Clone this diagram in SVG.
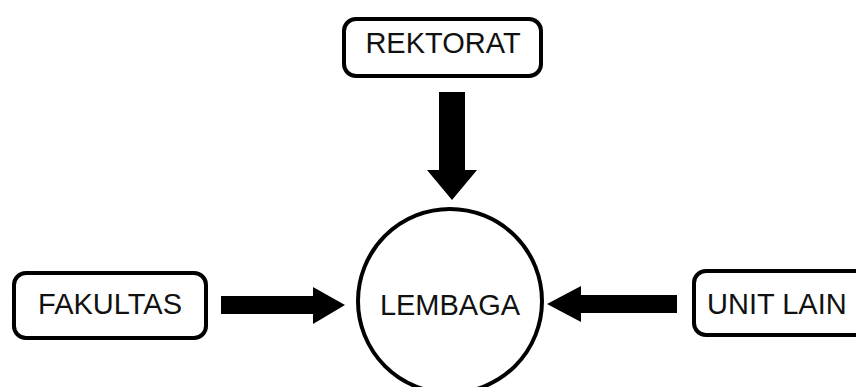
<svg xmlns="http://www.w3.org/2000/svg" width="856" height="387" viewBox="0 0 856 387">
<style>
.box{fill:#fff;stroke:#000;stroke-width:4}
.lbl{font-family:"Liberation Sans",Arial,sans-serif;font-size:29px;fill:#111}
.arr{fill:#000}
</style>
<rect width="856" height="387" fill="#fff"/>
<g id="connectors">
<polygon class="arr" points="439,92 465,92 465,170 477,170 452,200 427,170 439,170"/>
<polygon class="arr" points="221,296 313,296 313,287 345,305 313,324 313,314 221,314"/>
<polygon class="arr" points="677,295 581,295 581,286 547,304 581,322 581,313 677,313"/>
</g>
<g id="rektorat">
<rect class="box" x="344" y="19" width="197" height="57" rx="12"/>
<text class="lbl" x="443" y="53" text-anchor="middle">REKTORAT</text>
</g>
<g id="fakultas">
<rect class="box" x="14" y="273" width="192" height="65" rx="12"/>
<text class="lbl" x="110" y="314" text-anchor="middle">FAKULTAS</text>
</g>
<g id="lembaga">
<circle class="box" cx="450" cy="301" r="92" stroke-width="3.5"/>
<text class="lbl" x="450" y="315" text-anchor="middle">LEMBAGA</text>
</g>
<g id="unit-lain">
<rect class="box" x="694" y="271" width="180" height="64" rx="12"/>
<text class="lbl" x="707" y="314">UNIT LAIN</text>
</g>
</svg>
